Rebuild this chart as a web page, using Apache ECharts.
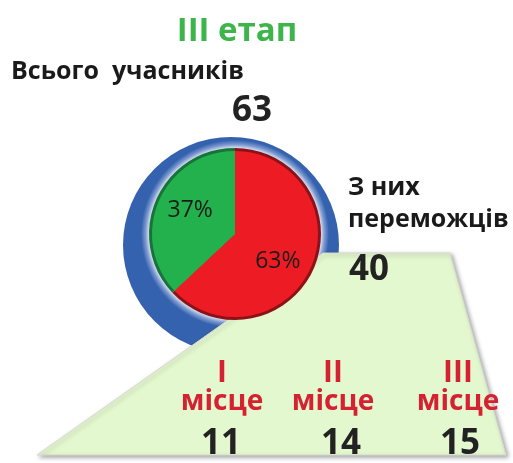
<!DOCTYPE html>
<html>
<head>
<meta charset="utf-8">
<script src="https://cdn.jsdelivr.net/npm/echarts@6/dist/echarts.min.js"></script>
<style>
html,body{margin:0;padding:0;background:#fff;}
#c{width:513px;height:463px;}
</style>
</head>
<body>
<div id="c"></div>
<script>
// ---- data ----
const stageTitle = 'III етап';
const totalLabel = 'Всього  учасників';
const totalParticipants = 63;
const winnersLabel = ['З них', 'переможців'];
const winnersCount = 40;
const pieNames = ['переможці', 'інші учасники'];
const pieShares = [63, 37];
const placeRoman = ['I', 'II', 'III'];
const placeWord = 'місце';
const placeValues = [11, 14, 15];

// ---- styles ----
const FONT = 'Open Sans';
const pieColors = ['#ed1c24', '#22b14c'];
const pieRimColors = ['#8c1218', '#17733a'];
const labelOffsets = [[2, 10], [-4, -6]];
const pieCenter = [235, 234];
const placeX = [222, 333, 458];
const numX = [221, 341, 460];

const chart = echarts.init(document.getElementById('c'), null, {renderer: 'canvas'});

const graphics = [];
// blue ring
graphics.push({
  type: 'circle', z: 1,
  shape: {cx: 231, cy: 245, r: 108},
  style: {
    fill: {
      type: 'radial', x: pieCenter[0], y: pieCenter[1], r: 100, global: true,
      colorStops: [
        {offset: 0, color: '#ffffff'},
        {offset: 0.85, color: '#eef2fa'},
        {offset: 0.895, color: '#7d9ad0'},
        {offset: 0.94, color: '#3462ae'},
        {offset: 1, color: '#3462ae'}
      ]
    }
  }
});
// trapezoid
graphics.push({
  type: 'polygon', z: 2,
  shape: {points: [[323, 253], [450, 253], [506, 455], [37, 455]]},
  style: {
    fill: '#e4f8cf', stroke: '#d6d9d2', lineWidth: 1,
    shadowColor: 'rgba(0,0,0,0.35)', shadowBlur: 4, shadowOffsetX: 2, shadowOffsetY: 2
  }
});
function txt(t, x, y, size, color, align, weight) {
  graphics.push({
    type: 'text', z: 10, x: x, y: y,
    style: {
      text: t, fill: color, font: (weight || 'bold') + ' ' + size + 'px "' + FONT + '"',
      textAlign: align || 'center', textVerticalAlign: 'middle'
    }
  });
}
txt(stageTitle, 237, 32, 33, '#3db54a');
txt(totalLabel, 11, 72, 25, '#1a1a1a', 'left');
txt(String(totalParticipants), 252, 111, 35, '#222');
txt(winnersLabel[0], 348, 188, 25, '#1a1a1a', 'left');
txt(winnersLabel[1], 348, 220, 25, '#1a1a1a', 'left');
txt(String(winnersCount), 349, 270, 35, '#222', 'left');
placeRoman.forEach((r, i) => {
  txt(r, placeX[i], 373, 30, '#d42232');
  txt(placeWord, placeX[i], 402, 28, '#d42232');
  txt(String(placeValues[i]), numX[i], 444, 35, '#222');
});

chart.setOption({
  animation: false,
  backgroundColor: '#ffffff',
  graphic: graphics,
  series: [
    {
      type: 'pie', z: 3, silent: true,
      center: pieCenter, radius: 86, startAngle: 90, clockwise: true,
      label: {show: false}, labelLine: {show: false},
      data: pieShares.map((v, i) => ({name: pieNames[i], value: v, itemStyle: {color: pieRimColors[i]}}))
    },
    {
      type: 'pie', z: 4, silent: true,
      center: pieCenter, radius: 83, startAngle: 90, clockwise: true,
      labelLine: {show: false},
      label: {
        show: true, position: 'inside', fontFamily: FONT, fontSize: 23, fontWeight: 'normal', color: '#1a1a1a',
        formatter: p => Math.round(p.value) + '%'
      },
      data: pieShares.map((v, i) => ({
        name: pieNames[i], value: v,
        itemStyle: {color: pieColors[i]},
        label: {offset: labelOffsets[i]}
      }))
    }
  ]
});
</script>
</body>
</html>
